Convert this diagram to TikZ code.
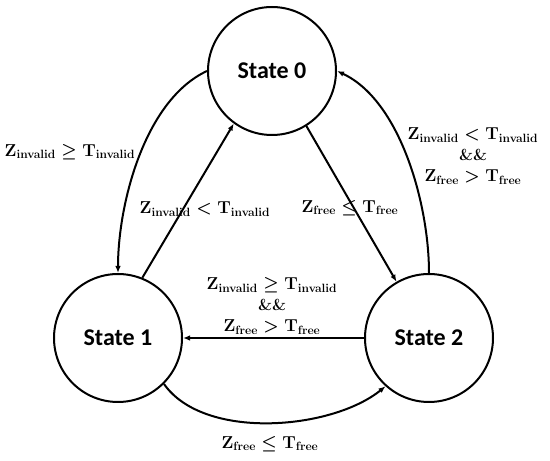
\documentclass[tikz,border=0pt]{standalone}
\usepackage{fontspec}
\newfontfamily\statefont{Carlito}
\DeclareMathSizes{16}{16}{12}{9}
\usetikzlibrary{arrows.meta}
\begin{document}
\begin{tikzpicture}[x=1pt,y=1pt,
  state/.style={circle, draw, line width=2pt, minimum size=128pt, inner sep=0pt,
    font=\statefont\bfseries\fontsize{24}{28}\selectfont},
  arr/.style={line width=2pt, -{Latex[length=7pt,width=5.5pt]}},
  lbl/.style={font=\fontsize{16}{21}\selectfont\boldmath, align=center, inner sep=0pt}]
\useasboundingbox (0,0) rectangle (550,461);
\node[state] (s0) at (272,390) {State 0};
\node[state] (s1) at (118,123) {State 1};
\node[state] (s2) at (429,123) {State 2};

\draw[arr] (s0.180) to[out=205,in=90,looseness=0.8] (s1.90);
\draw[arr] (s1.68) -- (s0.234);
\draw[arr] (s0.-58) -- (s2.120);
\draw[arr] (s2.90) to[out=90,in=-25,looseness=0.8] (s0.0);
\draw[arr] (s2.180) -- (s1.0);
\draw[arr] (s1.-45) to[out=-55,in=-141,looseness=0.8] (s2.-132);

\node[lbl] (l1) at (70,309) {$\mathbf{Z}_{\mathbf{invalid}}\geq\mathbf{T}_{\mathbf{invalid}}$};
\node[lbl] (l2) at (205,252) {$\mathbf{Z}_{\mathbf{invalid}}<\mathbf{T}_{\mathbf{invalid}}$};
\node[lbl] (l3) at (350,253) {$\mathbf{Z}_{\mathbf{free}}\leq\mathbf{T}_{\mathbf{free}}$};
\node[lbl] (l4) at (473,305) {$\mathbf{Z}_{\mathbf{invalid}}<\mathbf{T}_{\mathbf{invalid}}$\\\textbf{\&\&}\\$\mathbf{Z}_{\mathbf{free}}>\mathbf{T}_{\mathbf{free}}$};
\node[lbl] (l5) at (272,155) {$\mathbf{Z}_{\mathbf{invalid}}\geq\mathbf{T}_{\mathbf{invalid}}$\\\textbf{\&\&}\\$\mathbf{Z}_{\mathbf{free}}>\mathbf{T}_{\mathbf{free}}$};
\node[lbl] (l6) at (270,17) {$\mathbf{Z}_{\mathbf{free}}\leq\mathbf{T}_{\mathbf{free}}$};
\end{tikzpicture}
\end{document}
